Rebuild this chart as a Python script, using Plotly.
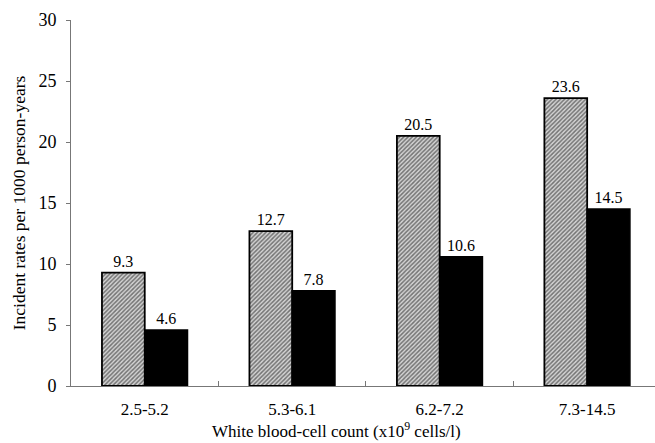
import plotly.graph_objects as go

categories = ["2.5-5.2", "5.3-6.1", "6.2-7.2", "7.3-14.5"]
series_a = [9.3, 12.7, 20.5, 23.6]
series_b = [4.6, 7.8, 10.6, 14.5]
y_ticks = [0, 5, 10, 15, 20, 25, 30]

font_family = "Liberation Serif, Times New Roman, serif"

fig = go.Figure()
fig.add_trace(go.Bar(
    x=categories, y=series_a,
    text=[f"{v:.1f}" for v in series_a], textposition="outside",
    textfont=dict(size=16, color="black", family=font_family),
    cliponaxis=False,
    marker=dict(color="white", line=dict(color="black", width=1.8),
                pattern=dict(shape="/", size=3, solidity=0.5, fgcolor="#111111", bgcolor="#d4d4d4")),
    showlegend=False,
))
fig.add_trace(go.Bar(
    x=categories, y=series_b,
    text=[f"{v:.1f}" for v in series_b], textposition="outside",
    textfont=dict(size=16, color="black", family=font_family),
    cliponaxis=False,
    marker=dict(color="black", line=dict(color="black", width=1.5)),
    showlegend=False,
))

fig.update_layout(
    width=655, height=443,
    margin=dict(l=71, r=0, t=20, b=57),
    paper_bgcolor="white", plot_bgcolor="white",
    barmode="group", bargap=0.42, bargroupgap=0,
    font=dict(family=font_family, color="black", size=17),
    xaxis=dict(
        range=[-0.5, 3.46], automargin=False,
        showline=True, linecolor="#777777", linewidth=1,
        ticks="inside", tickson="boundaries", ticklen=5, tickcolor="#777777",
        tickfont=dict(size=17), ticklabelstandoff=8,
        showgrid=False, zeroline=False,
    ),
    yaxis=dict(
        range=[0, 30], tickvals=y_ticks, automargin=False,
        showline=True, linecolor="#777777", linewidth=1,
        ticks="outside", ticklen=4, tickcolor="#777777",
        tickfont=dict(size=18), ticklabelstandoff=6,
        title=dict(text="Incident rates per 1000 person-years", font=dict(size=17.5), standoff=8),
        showgrid=False, zeroline=False,
    ),
    annotations=[dict(
        text="White blood-cell count (x10<sup>9</sup> cells/l)",
        xref="paper", yref="paper", x=0.455, y=-0.155,
        xanchor="center", yanchor="bottom", showarrow=False,
        font=dict(size=17, family=font_family, color="black"),
    )],
)

fig.write_html(
    "out.html",
    config={"displayModeBar": False},
    post_script="document.body.style.margin='0';document.body.style.overflow='hidden';",
)
